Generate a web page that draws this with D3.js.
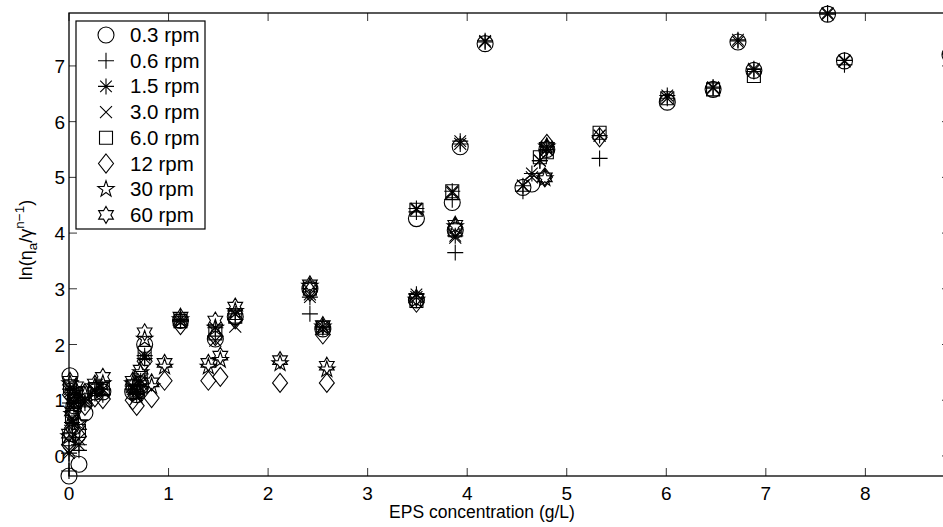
<!DOCTYPE html>
<html>
<head>
<meta charset="utf-8">
<script src="https://cdn.jsdelivr.net/npm/d3@7"></script>
<style>
  body { margin: 0; background: #fff; }
  svg { display: block; }
  text { font-family: "Liberation Sans", Arial, Helvetica, sans-serif; fill: #000; }
</style>
</head>
<body>
<svg id="vis" width="943" height="527"></svg>
<script>
var n = null;

// EPS concentration of each sample (g/L)
var eps = [0.00, 0.01, 0.03, 0.05, 0.07, 0.10, 0.16, 0.26, 0.34, 0.64, 0.68, 0.72, 0.76, 0.83, 0.96,
  1.12, 1.40, 1.47, 1.52, 1.67, 2.12, 2.42, 2.55, 2.59, 3.49, 3.49, 3.85, 3.88, 3.93, 4.18,
  4.56, 4.65, 4.73, 4.78, 4.80, 5.33, 6.01, 6.47, 6.72, 6.88, 7.62, 7.79, 8.85];

var labels = ["0.3 rpm", "0.6 rpm", "1.5 rpm", "3.0 rpm", "6.0 rpm", "12 rpm", "30 rpm", "60 rpm"];

// ln(eta_a / gamma^(n-1)) per sample, one array per spindle speed
var rpm0_3 = [-0.36, 1.44, 0.40, 0.90, 1.00, -0.15, 0.77, 1.15, 1.15, 1.15, 1.10, 1.30, 2.00, n, n,
  2.43, n, 2.10, n, 2.50, n, 3.00, 2.28, n, 2.80, 4.26, 4.55, 4.05, 5.55, 7.40,
  4.82, 4.88, n, n, 5.50, n, 6.35, 6.58, 7.43, 6.92, 7.93, 7.09, 7.20];
var rpm0_6 = [-0.27, 0.95, 0.55, 0.85, 1.05, 0.10, 0.95, 1.12, 1.10, 1.20, 1.10, 1.25, 1.75, n, n,
  2.42, n, 2.15, n, 2.45, n, 2.55, 2.30, n, 2.82, 4.38, 4.60, 3.65, 5.60, 7.43,
  4.75, n, 5.30, n, 5.50, 5.34, 6.42, 6.60, 7.45, 6.90, 7.93, 7.02, 7.20];
var rpm1_5 = [0.05, 1.20, 0.60, 0.95, 1.10, 0.20, 1.00, 1.18, 1.20, 1.25, 1.15, 1.35, 1.80, n, n,
  2.45, n, 2.30, n, 2.55, n, 2.85, 2.32, n, 2.90, 4.44, 4.75, 3.95, 5.65, 7.45,
  4.85, 5.07, 5.30, n, 5.55, 5.75, 6.47, 6.62, 7.47, 6.95, 7.95, 7.10, 7.22];
var rpm3_0 = [0.10, 1.15, 0.65, 0.90, 1.00, 0.30, 0.95, 1.15, 1.15, 1.20, 1.10, 1.30, 1.75, n, n,
  2.40, n, 2.07, n, 2.32, n, 2.90, 2.28, n, 2.85, 4.42, 4.72, 3.92, 5.60, 7.43,
  4.85, 5.00, 5.30, n, 5.50, 5.75, 6.42, 6.60, 7.43, 6.92, 7.93, 7.08, 7.20];
var rpm6_0 = [0.30, 1.25, 0.70, 1.00, 1.10, 0.45, 1.00, 1.20, 1.20, 1.25, 1.15, 1.40, 1.85, n, n,
  2.42, n, 2.20, n, 2.50, n, 3.00, 2.30, n, 2.78, 4.42, 4.75, 4.05, n, n,
  n, n, 5.36, n, 5.45, 5.80, 6.42, 6.58, n, 6.82, n, n, n];
var rpm12 = [0.20, 1.10, 0.50, 0.80, 0.95, 0.35, 0.90, 1.05, 1.02, 1.00, 0.90, 1.20, 1.70, 1.04, 1.35,
  2.35, 1.35, 2.15, 1.42, 2.45, 1.31, 2.95, 2.18, 1.31, 2.75, n, n, 4.10, n, n,
  n, n, n, 5.00, 5.60, 5.72, n, n, n, n, n, n, n];
var rpm30 = [0.35, 1.30, 0.75, 1.05, 1.20, 0.60, 1.10, 1.25, 1.30, 1.30, 1.10, 1.50, 2.10, 1.25, 1.60,
  2.45, 1.60, 2.30, 1.72, 2.60, 1.66, 3.05, 2.32, 1.55, 2.80, n, n, 4.12, n, n,
  n, n, n, 4.98, 5.55, n, n, n, n, n, n, n, n];
var rpm60 = [0.40, 1.35, 0.80, 1.10, 1.25, 0.55, 1.15, 1.30, 1.42, 1.35, 1.20, 1.55, 2.22, 1.32, 1.67,
  2.50, 1.67, 2.43, 1.80, 2.68, 1.72, 3.08, 2.35, 1.62, 2.84, n, n, 4.15, n, n,
  n, n, n, 5.00, 5.55, n, n, n, n, n, n, n, n];

var series = [rpm0_3, rpm0_6, rpm1_5, rpm3_0, rpm6_0, rpm12, rpm30, rpm60];
var xTicks = [0, 1, 2, 3, 4, 5, 6, 7, 8];
var yTicks = [0, 1, 2, 3, 4, 5, 6, 7];

// matlab-like open markers
function circle(r) {
  return "M" + r + ",0A" + r + "," + r + " 0 1,1 " + -r + ",0A" + r + "," + r + " 0 1,1 " + r + ",0Z";
}
function plus(s) {
  return "M" + -s + ",0H" + s + "M0," + -s + "V" + s;
}
function times(s) {
  return "M" + -s + "," + -s + "L" + s + "," + s + "M" + -s + "," + s + "L" + s + "," + -s;
}
function star(points, R, r) {
  var p = [];
  for (var i = 0; i < points * 2; i++) {
    var a = -Math.PI / 2 + i * Math.PI / points;
    var rad = i % 2 ? r : R;
    p.push([rad * Math.cos(a), rad * Math.sin(a)]);
  }
  return "M" + p.map(function(d) { return d[0].toFixed(2) + "," + d[1].toFixed(2); }).join("L") + "Z";
}
var markers = [
  circle(8),
  plus(8),
  plus(8) + times(5.8),
  times(6),
  "M-6.5,-6.5H6.5V6.5H-6.5Z",
  "M0,-9.5L7.5,0L0,9.5L-7.5,0Z",
  star(5, 8.5, 3.3),
  star(6, 8.5, 4.9)
];

var svg = d3.select("#vis");
var margin = { top: 13, left: 69, right: 950, bottom: 476 };

var allY = [];
series.forEach(function(s) { s.forEach(function(v) { if (v !== null) allY.push(v); }); });

var xScale = d3.scaleLinear().domain(d3.extent(eps)).range([margin.left, margin.right]);
var yScale = d3.scaleLinear().domain(d3.extent(allY)).range([margin.bottom, margin.top]);

// points
series.forEach(function(s, k) {
  svg.append("g")
    .selectAll("path")
    .data(s.map(function(v, i) { return { x: eps[i], y: v }; }).filter(function(d) { return d.y !== null; }))
    .enter()
    .append("path")
    .attr("d", markers[k])
    .attr("transform", function(d) { return "translate(" + xScale(d.x) + "," + yScale(d.y) + ")"; })
    .style("fill", "none")
    .style("stroke", "#000")
    .style("stroke-width", 1.1);
});

// box + inward ticks
var ax = svg.append("g").style("stroke", "#000").style("fill", "none");
ax.append("rect")
  .attr("x", margin.left).attr("y", margin.top)
  .attr("width", margin.right - margin.left).attr("height", margin.bottom - margin.top)
  .style("stroke-width", 1.3);

xTicks.forEach(function(t) {
  ax.append("line").attr("x1", xScale(t)).attr("x2", xScale(t))
    .attr("y1", margin.bottom).attr("y2", margin.bottom - 8).style("stroke-width", 0.8);
  ax.append("line").attr("x1", xScale(t)).attr("x2", xScale(t))
    .attr("y1", margin.top).attr("y2", margin.top + 8).style("stroke-width", 0.8);
  svg.append("text").text(t)
    .attr("x", xScale(t)).attr("y", 500)
    .attr("text-anchor", "middle").style("font-size", "19px");
});
yTicks.forEach(function(t) {
  ax.append("line").attr("x1", margin.left).attr("x2", margin.left + 8)
    .attr("y1", yScale(t)).attr("y2", yScale(t)).style("stroke-width", 0.8);
  ax.append("line").attr("x1", margin.right).attr("x2", margin.right - 8)
    .attr("y1", yScale(t)).attr("y2", yScale(t)).style("stroke-width", 0.8);
  svg.append("text").text(t)
    .attr("x", 65).attr("y", yScale(t) + 7)
    .attr("text-anchor", "end").style("font-size", "19px");
});

// axis labels
svg.append("text")
  .text("EPS concentration (g/L)")
  .attr("x", 482).attr("y", 518)
  .attr("text-anchor", "middle").style("font-size", "17.5px");

var yl = svg.append("text")
  .attr("transform", "translate(32,240) rotate(-90)")
  .attr("text-anchor", "middle")
  .style("font-size", "18px");
yl.append("tspan").text("ln(η");
yl.append("tspan").text("a").attr("dy", 5).style("font-size", "13.5px");
yl.append("tspan").text("/γ").attr("dy", -5);
yl.append("tspan").text("n−1").attr("dy", -8).style("font-size", "13.5px");
yl.append("tspan").text(")").attr("dy", 8);

// legend
var lg = svg.append("g");
lg.append("rect")
  .attr("x", 76).attr("y", 21).attr("width", 129).attr("height", 208)
  .style("fill", "#fff").style("stroke", "#000").style("stroke-width", 1.2);
labels.forEach(function(l, k) {
  var cy = 35 + k * 25.7;
  lg.append("path").attr("d", markers[k])
    .attr("transform", "translate(106," + cy + ")")
    .style("fill", "none").style("stroke", "#000").style("stroke-width", 1.1);
  lg.append("text").text(l)
    .attr("x", 130).attr("y", cy + 7)
    .style("font-size", "20.5px");
});
</script>
</body>
</html>
